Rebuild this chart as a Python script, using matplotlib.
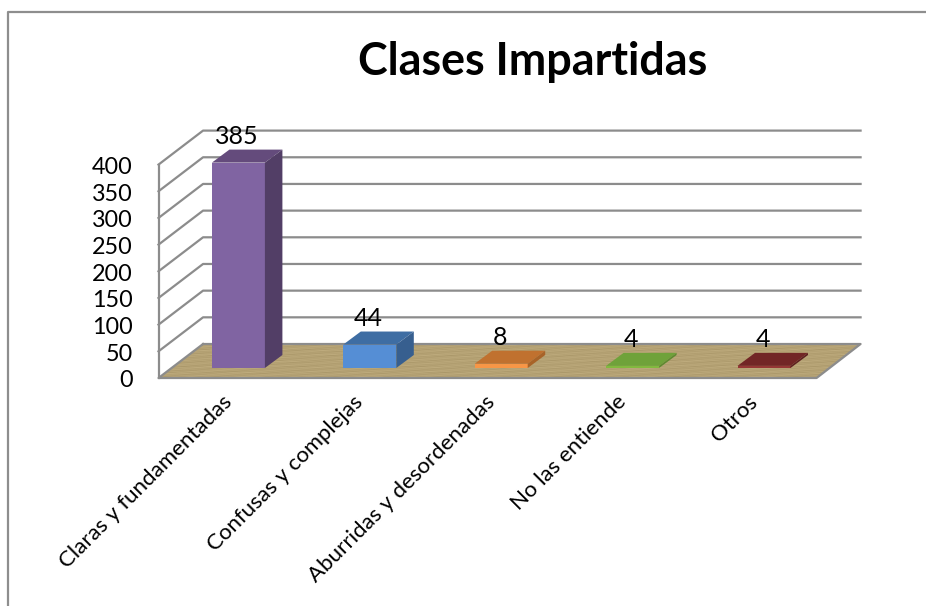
import matplotlib
matplotlib.use("Agg")
import matplotlib.pyplot as plt
from matplotlib.patches import Polygon
import numpy as np

plt.rcParams['font.family'] = ['Lato', 'DejaVu Sans']

# data
categories = ['Claras y fundamentadas', 'Confusas y complejas', 'Aburridas y desordenadas', 'No las entiende', 'Otros']
values = [385, 44, 8, 4, 4]
y_ticks = [0, 50, 100, 150, 200, 250, 300, 350, 400]
title = 'Clases Impartidas'

front_cols = ['#8064A2', '#558ED5', '#F79646', '#82B93F', '#953735']
top_cols = ['#644B7C', '#3E6DA3', '#C0712F', '#6FA23A', '#722626']
side_cols = ['#523E66', '#375F8F', '#A86328', '#5E8A30', '#5E2020']

W, H = 926, 606
x_per_cat = 131.4   # pixels between bars
y_per_val = 0.5335  # pixels per unit
x0_px, y0_px = 238.4, 368

fig = plt.figure(figsize=(W / 100, H / 100), dpi=100)
ax = fig.add_axes([0, 0, 1, 1])
ax.axis('off')

# depth of the bars and of the chart box, in axis units
bar_w = 53 / x_per_cat
bar_dx = 17.5 / x_per_cat
bar_dy = 13 / y_per_val
front_y = -10 / y_per_val
back_y = 24 / y_per_val
left_f, left_b = -0.608, -0.269
right_f, right_b = 4.40, 4.735
grid_col = '#8C8C8C'

# outer chart frame
ax.plot([8 / W, 8 / W, 1], [0, 1 - 12 / H, 1 - 12 / H], transform=ax.transAxes, color='#8E8E8E', lw=1.6)

# walls
for t in y_ticks[1:]:
    ax.plot([left_f, left_b, right_b], [front_y + t, back_y + t, back_y + t], color=grid_col, lw=1.6, zorder=1)
ax.plot([left_f, left_f], [front_y, front_y + y_ticks[-1]], color=grid_col, lw=1.6, zorder=1)

# wooden floor
floor_xy = [(left_f, front_y), (right_f, front_y), (right_b, back_y), (left_b, back_y)]
xx, yy = np.meshgrid(np.arange(700), np.arange(40))
grain = np.sin(xx * 0.37 + yy * 2.1) + np.sin(xx * 0.11 - yy * 1.3) + np.sin(yy * 3.7 + xx * 0.05)
tex = np.zeros(grain.shape + (3,))
for k, c in enumerate([181, 162, 116]):
    tex[..., k] = (c + 4 * grain) / 255
im = ax.imshow(tex, extent=[left_f, right_b, front_y, back_y], aspect='auto', origin='lower', zorder=2)
floor = Polygon(floor_xy, closed=True, facecolor='none', edgecolor='none', zorder=2)
ax.add_patch(floor)
im.set_clip_path(floor)
ax.plot([left_b, right_b, right_f, left_f, left_b], [back_y, back_y, front_y, front_y, back_y], color=grid_col, lw=1.6, zorder=3)

# bars
xpos = np.arange(len(values))
ax.bar(xpos, values, width=bar_w, color=front_cols, zorder=5)
for i, v in enumerate(values):
    l, r = i - bar_w / 2, i + bar_w / 2
    ax.add_patch(Polygon([(l, v), (r, v), (r + bar_dx, v + bar_dy), (l + bar_dx, v + bar_dy)], facecolor=top_cols[i], zorder=5))
    ax.add_patch(Polygon([(r, 0), (r + bar_dx, bar_dy), (r + bar_dx, v + bar_dy), (r, v)], facecolor=side_cols[i], zorder=5))
    ax.annotate(str(v), (i, v), xytext=(-1, 10.5), textcoords='offset points', ha='center', va='bottom',
                fontsize=18, color='black', zorder=6)

# tick labels
for t in y_ticks:
    ax.annotate(str(t), (left_f, front_y + t), xytext=(-18.5, -2), textcoords='offset points', ha='right', va='center',
                fontsize=16.8, color='black')
for i, c in enumerate(categories):
    ax.annotate(c, (i, front_y), xytext=(-12, -10), textcoords='offset points', rotation=45, rotation_mode='anchor',
                ha='right', va='top', fontsize=16, color='black')

fig.text(532.5 / W, 1 - 62 / H, title, ha='center', va='center', fontsize=32.3, fontweight='bold', color='black')

# imshow and the bars moved the limits, so set them last
ax.set_xlim(-x0_px / x_per_cat, (W - x0_px) / x_per_cat)
ax.set_ylim((y0_px - H) / y_per_val, y0_px / y_per_val)

fig.savefig('out.png', dpi=100)
